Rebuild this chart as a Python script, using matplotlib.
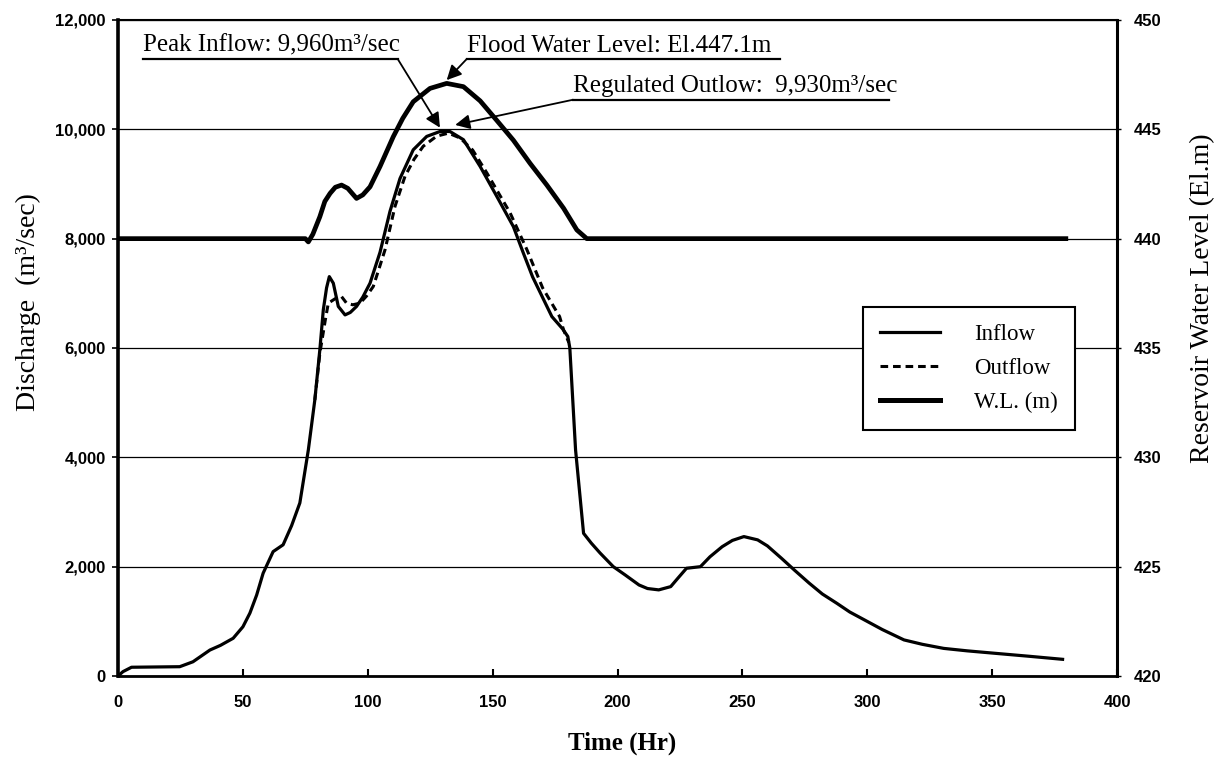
import matplotlib
matplotlib.use("Agg")
import matplotlib.pyplot as plt
from matplotlib.ticker import FuncFormatter, MultipleLocator
from matplotlib.lines import Line2D

# Inflow hydrograph (Hr, m3/sec)
inflow_hr = [0, 2, 5.4, 15, 24.7, 30, 36.8, 41, 46.1, 50, 52.8, 55.5, 58.1, 62.1, 66.1, 69.5,
             72.8, 76.2, 78.8, 80.8, 82.2, 83.5, 84.6, 86.2, 88.2, 90.9, 93, 95.5, 98, 100.9,
             104.9, 108.9, 112.9, 118.2, 123.6, 128.9, 132.9, 138.3, 145, 151.7, 158.3, 162.3,
             166, 173.7, 178, 180.1, 180.9, 183.2, 186.4, 189.5, 193, 198.3, 203, 208.6,
             212, 216.5, 221.3, 224, 227.6, 233.2, 237, 241.9, 246, 250.6, 256.1, 260, 265.6,
             271, 276.7, 282, 287.8, 293, 298.9, 306, 314.7, 322, 330.6, 340, 351.2, 365, 378.2]
inflow_q = [0, 80, 160, 165, 170, 260, 475, 560, 690, 900, 1150, 1480, 1880, 2275, 2400, 2750,
            3165, 4135, 5050, 5965, 6700, 7100, 7305, 7185, 6760, 6605, 6650, 6760, 6930, 7185,
            7750, 8500, 9100, 9625, 9870, 9960, 9960, 9810, 9320, 8770, 8220, 7735,
            7300, 6575, 6350, 6210, 6000, 4135, 2610, 2430, 2250, 2000, 1850, 1665,
            1600, 1575, 1635, 1780, 1970, 2000, 2180, 2365, 2480, 2550, 2490, 2380, 2155,
            1930, 1700, 1500, 1330, 1170, 1025, 850, 660, 580, 505, 460, 415, 360, 305]

# Regulated outflow (only where it departs from the inflow)
outflow_hr = [78.8, 80.8, 83, 84.2, 86.9, 89.5, 91.5, 94, 96.9, 99.5, 102.2, 104.5, 106.9,
              110.9, 114.9, 118.5, 122.2, 127.6, 132.3, 137, 142, 147.7, 157, 163.7, 170,
              176.8, 178.4, 180.5]
outflow_q = [5050, 5900, 6515, 6820, 6900, 6940, 6820, 6790, 6820, 6950, 7125, 7450, 7795,
             8590, 9140, 9450, 9690, 9875, 9930, 9840, 9620, 9200, 8470, 7800, 7100,
             6575, 6330, 6100]

# Reservoir water level (Hr, El.m)
wl_hr = [0, 75, 76.2, 78, 80.8, 82.8, 84.9, 87, 89.5, 92, 95.5, 98, 100.9, 104.9, 110.2, 114,
         118.2, 124.9, 131.6, 138.3, 145, 151.7, 158.3, 165, 171.7, 178.4, 183.7, 187.7, 379.5]
wl_el = [440, 440, 439.85, 440.2, 441.0, 441.7, 442.07, 442.35, 442.45, 442.3, 441.84, 442.0,
         442.37, 443.3, 444.66, 445.5, 446.26, 446.87, 447.1, 446.95, 446.3, 445.4, 444.5,
         443.44, 442.45, 441.39, 440.4, 440.0, 440.0]

legend_labels = ["Inflow", "Outflow", "W.L. (m)"]

serif = "Liberation Serif"
sans = "Liberation Sans"

fig = plt.figure(figsize=(12.18, 7.68), dpi=100)
ax = fig.add_axes([0.0969, 0.1198, 0.8202, 0.8542])
ax2 = ax.twinx()

ax.plot(inflow_hr, inflow_q, color="black", lw=2.3, solid_joinstyle="round", zorder=3)
ax.plot(outflow_hr, outflow_q, color="black", lw=2.2, ls=(0, (2.5, 1.6)), zorder=3)
ax2.plot(wl_hr, wl_el, color="black", lw=3.4, solid_joinstyle="round")

ax.set_xlim(0, 400)
ax.set_ylim(0, 12000)
ax2.set_ylim(420, 450)
ax.xaxis.set_major_locator(MultipleLocator(50))
ax.yaxis.set_major_locator(MultipleLocator(2000))
ax2.yaxis.set_major_locator(MultipleLocator(5))
ax.yaxis.set_major_formatter(FuncFormatter(lambda v, p: f"{int(v):,}"))
ax.yaxis.grid(True, color="black", lw=0.9)
ax.set_axisbelow(True)

for a in (ax, ax2):
    for lab in a.get_xticklabels() + a.get_yticklabels():
        lab.set_fontfamily(sans)
        lab.set_fontweight("bold")
        lab.set_fontsize(12)
ax.tick_params(axis="x", direction="in", length=5, width=1.5, pad=14)
ax.tick_params(axis="y", direction="out", length=4, width=1.2, pad=5)
ax2.tick_params(axis="y", direction="out", length=3, width=1.0, pad=9)

ax.spines["left"].set_linewidth(2.6)
ax.spines["bottom"].set_linewidth(2.0)
ax.spines["top"].set_linewidth(1.5)
ax2.spines["right"].set_linewidth(2.2)
ax2.spines["left"].set_visible(False)
ax2.spines["top"].set_visible(False)
ax2.spines["bottom"].set_visible(False)

ax.set_xlabel("Time (Hr)", fontfamily=serif, fontweight="bold", fontsize=18)
ax.xaxis.set_label_coords(0.505, -0.085)
ax.set_ylabel("Discharge  (m³/sec)", fontfamily=serif, fontsize=20)
ax.yaxis.set_label_coords(-0.077, 0.57)
ax2.set_ylabel("Reservoir Water Level (El.m)", fontfamily=serif, fontsize=20)
ax2.yaxis.set_label_coords(1.073, 0.576)

# annotations with leader lines
arrow = dict(arrowstyle="-|>", color="black", lw=1.3, mutation_scale=22, shrinkA=0, shrinkB=0)
ann_font = dict(fontfamily=serif, fontsize=18, va="bottom", ha="left")

ax.text(10, 11330, "Peak Inflow: 9,960m³/sec", **ann_font)
ax.plot([10, 112], [11285, 11285], color="black", lw=1.6, zorder=4)
ax.annotate("", xy=(128.9, 10030), xytext=(112, 11285), arrowprops=arrow, zorder=4)

ax.text(139.6, 11330, "Flood Water Level: El.447.1m", **ann_font)
ax.plot([139.6, 265], [11285, 11285], color="black", lw=1.6, zorder=4)
ax.annotate("", xy=(131.6, 10900), xytext=(139.6, 11285), arrowprops=arrow, zorder=4)

ax.text(182.2, 10590, "Regulated Outlow:  9,930m³/sec", **ann_font)
ax.plot([182.2, 308.5], [10541, 10541], color="black", lw=1.6, zorder=4)
ax.annotate("", xy=(135, 10080), xytext=(182.2, 10541), arrowprops=arrow, zorder=4)

handles = [
    Line2D([], [], color="black", lw=2.3),
    Line2D([], [], color="black", lw=2.2, ls=(0, (2.5, 1.6))),
    Line2D([], [], color="black", lw=3.6),
]
leg = ax2.legend(handles, legend_labels, loc="lower left",
                 bbox_to_anchor=(0.746, 0.375), borderaxespad=0,
                 prop={"family": serif, "size": 16.5},
                 frameon=True, fancybox=False, framealpha=1, edgecolor="black",
                 handlelength=2.6, handletextpad=1.5, borderpad=0.75, labelspacing=0.55)
leg.get_frame().set_linewidth(1.5)

fig.savefig("out.png", dpi=100, facecolor="white")
